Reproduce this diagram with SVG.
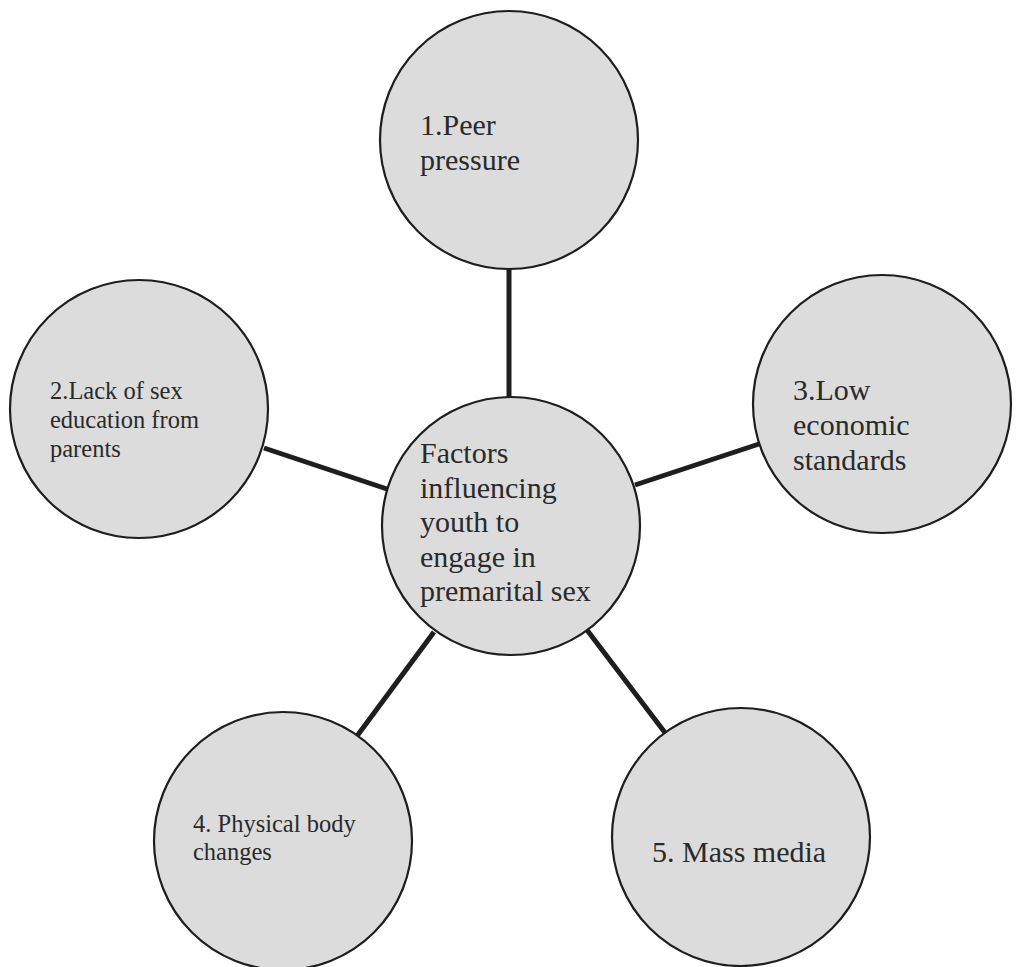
<svg xmlns="http://www.w3.org/2000/svg" width="1017" height="967" viewBox="0 0 1017 967">
<style>
.node circle{fill:#dcdcdc;stroke:#1e1e1e;stroke-width:2.2}
.conn line{stroke:#1e1e1e;stroke-width:5}
text{font-family:"Liberation Serif","Times New Roman",serif;fill:#2a2a2a}
.big{font-size:30px}
.small{font-size:24.5px}
</style>
<rect width="1017" height="967" fill="#ffffff"/>
<g id="connectors" class="conn">
<line x1="509" y1="268" x2="509" y2="398"/>
<line x1="264" y1="448" x2="387" y2="489"/>
<line x1="635" y1="485" x2="759" y2="444"/>
<line x1="357" y1="736" x2="434" y2="632"/>
<line x1="587" y1="630" x2="666" y2="734"/>
</g>
<g id="node-peer" class="node">
<circle cx="509" cy="140" r="129"/>
<text class="big" x="420" y="135">1.Peer</text>
<text class="big" x="420" y="170">pressure</text>
</g>
<g id="node-lack" class="node">
<circle cx="139" cy="409" r="129"/>
<text class="small" x="50" y="399">2.Lack of sex</text>
<text class="small" x="50" y="428">education from</text>
<text class="small" x="50" y="457">parents</text>
</g>
<g id="node-low" class="node">
<circle cx="882" cy="404" r="129"/>
<text class="big" x="793" y="400">3.Low</text>
<text class="big" x="793" y="435">economic</text>
<text class="big" x="793" y="470">standards</text>
</g>
<g id="node-center" class="node">
<circle cx="511" cy="526" r="129"/>
<text class="big" x="420" y="463">Factors</text>
<text class="big" x="420" y="498">influencing</text>
<text class="big" x="420" y="532">youth to</text>
<text class="big" x="420" y="567">engage in</text>
<text class="big" x="420" y="601">premarital sex</text>
</g>
<g id="node-physical" class="node">
<circle cx="283" cy="841" r="129"/>
<text class="small" x="193" y="832">4. Physical body</text>
<text class="small" x="193" y="860">changes</text>
</g>
<g id="node-media" class="node">
<circle cx="741" cy="837" r="129"/>
<text class="big" x="652" y="862">5. Mass media</text>
</g>
</svg>
